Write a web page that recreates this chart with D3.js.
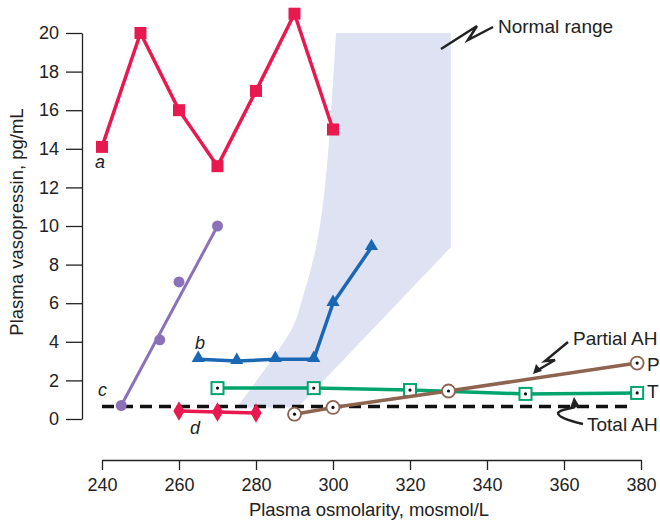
<!DOCTYPE html>
<html><head><meta charset="utf-8">
<script src="https://cdn.jsdelivr.net/npm/d3@7"></script>
<style>body{margin:0;background:#fff}svg{display:block;font-family:"Liberation Sans",Arial,sans-serif}</style>
</head><body><svg id="c" width="660" height="521"></svg>
<script>
// ---- data ----
const xTicks = [240,260,280,300,320,340,360,380];
const yTicks = [0,2,4,6,8,10,12,14,16,18,20];
const seriesA = [[240,14.1],[250,20],[260,16],[270,13.1],[280,17],[290,21],[300,15]];
const seriesB = [[265,3.1],[275,3.0],[285,3.1],[295,3.1],[300,6],[310,8.9]];
const seriesC = [[245,0.7],[255,4.1],[260,7.1],[270,10]];
const seriesD = [[260,0.42],[270,0.36],[280,0.31]];
const seriesT = [[270,1.6],[295,1.6],[320,1.5],[350,1.3],[379,1.35]];
const seriesP = [[290,0.25],[300,0.6],[330,1.45],[379,2.9]];
const totalAH = [[240,0.65],[378,0.65]];
const normalLeft = [[300.8,20],[299.2,15],[297.6,11.5],[295.6,8.9],[292,6.2],[289.4,4.7],[275,0.6]];
const normalRight = [[290.9,0.6],[330.6,8.9],[330.6,20]];

const x = d3.scaleLinear().domain([240,380]).range([102,641]);
const y = d3.scaleLinear().domain([0,20]).range([419,33]);
const svg = d3.select("#c");
const FS = 18, FA = 19;

// normal range band
const leftPath = d3.line().x(d=>x(d[0])).y(d=>y(d[1])).curve(d3.curveCatmullRom.alpha(0.5))(normalLeft);
const rightPath = normalRight.map(d=>"L"+x(d[0])+","+y(d[1])).join("");
svg.append("path").attr("d", leftPath + rightPath + "Z").attr("fill","#dfe2f3");

// axes
const yAxis = svg.append("g").attr("transform","translate(82,0)")
  .call(d3.axisLeft(y).tickValues(yTicks).tickSize(16).tickSizeOuter(0).tickPadding(7));
const xAxis = svg.append("g").attr("transform","translate(0,460)")
  .call(d3.axisBottom(x).tickValues(xTicks).tickSize(10).tickSizeOuter(0).tickPadding(8));
[yAxis,xAxis].forEach(g=>{
  g.selectAll("path,line").attr("stroke","#222").attr("stroke-width",1.3);
  g.selectAll("text").attr("font-size",FS).attr("fill","#222").attr("font-family","Liberation Sans, Arial, sans-serif");
});

svg.append("text").attr("transform","translate(23,"+((33+419)/2-4)+") rotate(-90)")
  .attr("text-anchor","middle").attr("font-size",18.5).attr("fill","#222").text("Plasma vasopressin, pg/mL");
svg.append("text").attr("x",369).attr("y",516)
  .attr("text-anchor","middle").attr("font-size",18.5).attr("fill","#222").text("Plasma osmolarity, mosmol/L");

const line = d3.line().x(d=>x(d[0])).y(d=>y(d[1]));

// total AH dashed
svg.append("path").attr("d",line(totalAH)).attr("stroke","#111").attr("stroke-width",3.5)
  .attr("stroke-dasharray","12,7").attr("fill","none");

// series a
const cA="#e8194f";
svg.append("path").attr("d",line(seriesA)).attr("stroke",cA).attr("stroke-width",3.5).attr("fill","none");
svg.selectAll(".ma").data(seriesA).enter().append("rect")
  .attr("x",d=>x(d[0])-6).attr("y",d=>y(d[1])-6).attr("width",12).attr("height",12).attr("fill",cA);

// series b
const cB="#1a68b4";
svg.append("path").attr("d",line(seriesB)).attr("stroke",cB).attr("stroke-width",3.5).attr("fill","none").attr("stroke-linejoin","round");
svg.selectAll(".mb").data(seriesB).enter().append("path")
  .attr("d",d3.symbol().type(d3.symbolTriangle).size(75))
  .attr("transform",d=>`translate(${x(d[0])},${y(d[1])-1})`).attr("fill",cB);

// series c (fitted line from first to last)
const cC="#8b72b8";
svg.append("path").attr("d",line([seriesC[0],seriesC[seriesC.length-1]])).attr("stroke",cC).attr("stroke-width",3).attr("fill","none");
svg.selectAll(".mc").data(seriesC).enter().append("circle")
  .attr("cx",d=>x(d[0])).attr("cy",d=>y(d[1])).attr("r",5.5).attr("fill",cC);

// series d
svg.append("path").attr("d",line(seriesD)).attr("stroke",cA).attr("stroke-width",3.5).attr("fill","none");
svg.selectAll(".md").data(seriesD).enter().append("path")
  .attr("d",d3.symbol().type(d3.symbolDiamond).size(110))
  .attr("transform",d=>`translate(${x(d[0])},${y(d[1])})`).attr("fill",cA);

// series T
const cT="#00a46c";
svg.append("path").attr("d",line(seriesT)).attr("stroke",cT).attr("stroke-width",3.5).attr("fill","none");
const gT = svg.selectAll(".mt").data(seriesT).enter().append("g")
  .attr("transform",d=>`translate(${x(d[0])},${y(d[1])})`);
gT.append("rect").attr("x",-6).attr("y",-6).attr("width",12).attr("height",12).attr("fill","#fff").attr("stroke",cT).attr("stroke-width",2);
gT.append("circle").attr("r",1.6).attr("fill","#111");

// series P
const cP="#8c6450";
svg.append("path").attr("d",line(seriesP)).attr("stroke",cP).attr("stroke-width",3.5).attr("fill","none");
const gP = svg.selectAll(".mp").data(seriesP).enter().append("g")
  .attr("transform",d=>`translate(${x(d[0])},${y(d[1])})`);
gP.append("circle").attr("r",6.5).attr("fill","#fff").attr("stroke",cP).attr("stroke-width",1.8);
gP.append("circle").attr("r",1.6).attr("fill","#111");

// labels
function lab(t,px,py,opts={}){
  svg.append("text").attr("x",px).attr("y",py).attr("font-size",opts.fs||FS).attr("fill","#222")
    .attr("font-style",opts.it?"italic":"normal").attr("text-anchor",opts.anchor||"start").text(t);
}
lab("a",95,168,{it:1});
lab("b",195,349,{it:1});
lab("c",98,396,{it:1});
lab("d",190,434,{it:1});
lab("P",647,371,{fs:FA});
lab("T",647,398,{fs:FA});
lab("Partial AH",573,345,{fs:FA});
lab("Total AH",587,431,{fs:FA});
lab("Normal range",498,33,{fs:FA});

// squiggle arrows
const sq = d3.line();
svg.append("path").attr("d",sq([[441,49],[477,26],[468,40],[493,27]]))
  .attr("stroke","#222").attr("stroke-width",2.5).attr("fill","none").attr("stroke-linejoin","miter");
svg.append("path").attr("d",sq([[568,342],[545,361],[555,360],[538,370]]))
  .attr("stroke","#222").attr("stroke-width",2.5).attr("fill","none");
svg.append("path").attr("d","M533,374 L536,364 L542,371 Z").attr("fill","#222");
svg.append("path").attr("d","M583,424 C570,421 558,417 558,413 C559,410 568,409 575,407")
  .attr("stroke","#222").attr("stroke-width",2.5).attr("fill","none");
svg.append("path").attr("d","M574,397 L570,408 L580,407 Z").attr("fill","#222");
</script></body></html>
